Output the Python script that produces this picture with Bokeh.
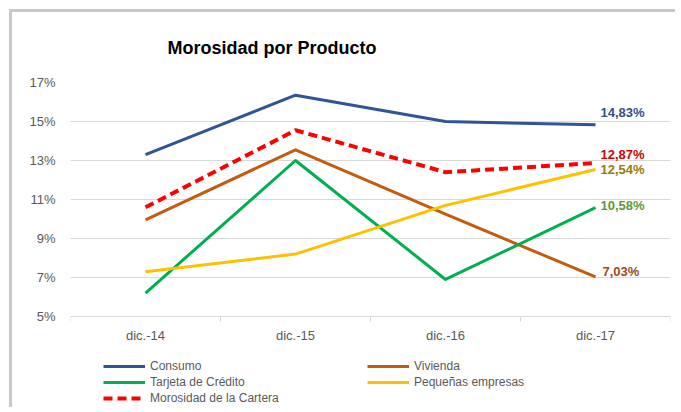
from bokeh.plotting import figure
from bokeh.models import Range1d, FixedTicker, PrintfTickFormatter, Legend, LegendItem
from bokeh.embed import file_html
from bokeh.resources import INLINE
from bokeh.core.properties import value

# ---- data ----
categories = ["dic.-14", "dic.-15", "dic.-16", "dic.-17"]
consumo = [13.3, 16.35, 15.0, 14.83]
vivienda = [9.95, 13.55, 10.25, 7.03]
tarjeta = [6.2, 13.0, 6.9, 10.58]
pequenas = [7.3, 8.2, 10.7, 12.54]
cartera = [10.6, 14.55, 12.4, 12.87]
series_names = ["Consumo", "Vivienda", "Tarjeta de Crédito", "Pequeñas empresas", "Morosidad de la Cartera"]
y_ticks = [5, 7, 9, 11, 13, 15, 17]

# ---- styles ----
FONT = "Liberation Sans"
line_colors = ["#2F5597", "#C55A11", "#00B050", "#FFC000", "#FF0000"]
label_colors = ["#2F4F8F", "#A04A1C", "#5A9A3C", "#9A7B0A", "#D00000"]
line_widths = [3, 3, 3, 3, 4]
dashes = ["solid", "solid", "solid", "solid", "9 5"]
label_dy = [-12, -5, -2, 0, -9]
label_dx = [5, 7, 5, 5, 5]

xs = list(range(len(categories)))

W, H = 666, 398
B_TOP, B_BOTTOM = 70, 2
PLOT_PX = 234  # pixel height between lowest and highest y tick
y_lo, y_hi = y_ticks[0], y_ticks[-1]
frame_h = H - B_TOP - B_BOTTOM
y_start = y_hi - frame_h * (y_hi - y_lo) / PLOT_PX

p = figure(width=W, height=H, output_backend="svg", toolbar_location=None,
           x_range=Range1d(-0.5, len(categories) - 0.5), y_range=Range1d(y_start, y_hi),
           min_border_left=58, min_border_right=8, min_border_top=B_TOP, min_border_bottom=B_BOTTOM,
           title="Morosidad por Producto")
p.styles = {"border-top": "3px solid #c8c8c8", "border-left": "3px solid #c8c8c8",
            "margin-top": "9px", "margin-left": "9px"}
p.outline_line_color = None
p.background_fill_color = "white"
p.border_fill_color = "white"

p.title.text_font = FONT
p.title.text_font_size = "18px"
p.title.text_font_style = "bold"
p.title.text_color = "black"
p.title.align = "left"
p.title.offset = 97
p.title.vertical_align = "top"
p.title.standoff = 46

# x axis drawn at the 5% level
p.xaxis.fixed_location = y_lo
p.xaxis.ticker = FixedTicker(ticks=xs, minor_ticks=[i - 0.5 for i in range(len(categories) + 1)])
p.xaxis.major_label_overrides = {i: c for i, c in enumerate(categories)}
p.xaxis.axis_line_color = "#d9d9d9"
p.xaxis.major_tick_line_color = None
p.xaxis.major_tick_out = 0
p.xaxis.major_tick_in = 0
p.xaxis.minor_tick_line_color = "#d9d9d9"
p.xaxis.minor_tick_out = 5
p.xaxis.minor_tick_in = 0
p.xaxis.major_label_standoff = 6
p.xaxis.major_label_text_font = FONT
p.xaxis.major_label_text_font_size = "13px"
p.xaxis.major_label_text_color = "#595959"

# y axis
p.yaxis.ticker = FixedTicker(ticks=y_ticks, minor_ticks=[])
p.yaxis.formatter = PrintfTickFormatter(format="%d%%")
p.yaxis.axis_line_color = None
p.yaxis.major_tick_line_color = None
p.yaxis.major_tick_out = 0
p.yaxis.major_tick_in = 0
p.yaxis.minor_tick_line_color = None
p.yaxis.major_label_standoff = 15
p.yaxis.major_label_text_font = FONT
p.yaxis.major_label_text_font_size = "13px"
p.yaxis.major_label_text_color = "#595959"

p.xgrid.grid_line_color = None
p.ygrid.grid_line_color = "#d9d9d9"
p.ygrid.grid_line_width = 1

all_series = [consumo, vivienda, tarjeta, pequenas, cartera]
items = []
for name, vals, col, lw, dash in zip(series_names, all_series, line_colors, line_widths, dashes):
    r = p.line(xs, vals, line_color=col, line_width=lw, line_dash=dash, line_join="round")
    items.append(LegendItem(label=name, renderers=[r]))

for vals, col, dx, dy in zip(all_series, label_colors, label_dx, label_dy):
    txt = ("%.2f%%" % vals[-1]).replace(".", ",")
    p.text(x=[xs[-1]], y=[vals[-1]], text=[txt], text_color=col,
           text_font=value(FONT), text_font_size="13px", text_font_style="bold",
           text_align="left", text_baseline="middle", x_offset=dx, y_offset=dy)

legend = Legend(items=items, location=(33, 2), orientation="horizontal", ncols=2,
                glyph_width=42, glyph_height=16, label_height=16, label_width=217,
                label_standoff=5, spacing=0, padding=0, margin=0,
                label_text_font=FONT, label_text_font_size="12px", label_text_color="#595959",
                border_line_color=None, background_fill_alpha=0)
p.add_layout(legend, "center")

open("out.html", "w").write(file_html(p, INLINE))
